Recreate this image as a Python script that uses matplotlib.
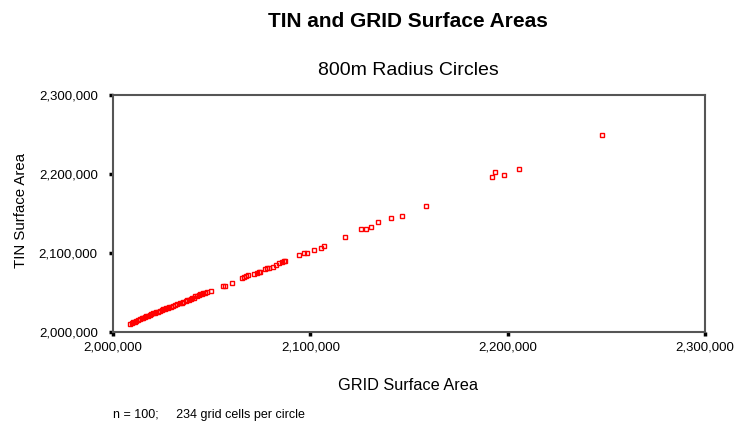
import matplotlib.pyplot as plt
from matplotlib.ticker import FuncFormatter

# values (thousands of m^2)
grid_area = [2008.5, 2009.5, 2010.2, 2011.0, 2011.8, 2012.6, 2013.6, 2014.5, 2015.2, 2016.1,
             2016.9, 2017.8, 2018.6, 2019.4, 2020.3, 2021.2, 2022.0, 2022.9, 2023.8, 2024.6,
             2025.5, 2026.2, 2027.0, 2027.7, 2028.3, 2029.5, 2030.4, 2031.3, 2032.6, 2033.9,
             2034.8, 2035.6, 2036.8, 2037.6, 2038.4, 2039.3, 2040.2, 2040.9, 2041.5, 2042.6,
             2043.5, 2044.2, 2044.9, 2045.8, 2046.6, 2047.8, 2049.5, 2055.9, 2057.0, 2060.1,
             2065.5, 2066.6, 2067.6, 2068.6, 2071.5, 2072.9, 2073.8, 2074.6, 2077.0, 2078.0,
             2079.2, 2081.3, 2082.5, 2083.9, 2085.5, 2086.5, 2087.2, 2094.4, 2097.0, 2098.3,
             2102.0, 2105.2, 2106.8, 2117.7, 2125.7, 2128.0, 2130.6, 2134.5, 2141.0, 2146.2,
             2158.6, 2192.3, 2193.7, 2198.3, 2205.9, 2247.6]
tin_area = [2010.2, 2011.3, 2012.2, 2013.0, 2014.0, 2015.1, 2016.4, 2017.3, 2018.2, 2019.3,
            2020.0, 2020.6, 2021.5, 2022.5, 2023.6, 2024.5, 2025.0, 2025.6, 2026.8, 2027.7,
            2028.6, 2029.2, 2029.9, 2030.6, 2031.1, 2032.2, 2033.0, 2034.0, 2035.2, 2036.2,
            2037.1, 2038.2, 2039.1, 2040.0, 2040.7, 2041.6, 2042.5, 2043.6, 2045.8, 2046.2,
            2047.0, 2047.5, 2047.9, 2049.0, 2050.0, 2050.8, 2052.0, 2057.6, 2058.6, 2061.8,
            2068.4, 2070.2, 2071.0, 2071.9, 2074.0, 2074.8, 2075.6, 2076.5, 2079.4, 2080.7,
            2081.5, 2082.8, 2084.6, 2087.0, 2088.6, 2089.5, 2090.4, 2097.5, 2100.5, 2100.5,
            2103.4, 2106.8, 2108.5, 2119.8, 2130.0, 2131.0, 2132.8, 2139.0, 2144.0, 2147.0,
            2160.0, 2195.8, 2202.0, 2198.8, 2206.8, 2249.0]
x = [v * 1000 for v in grid_area]
y = [v * 1000 for v in tin_area]

ticks = [2000000, 2100000, 2200000, 2300000]

plt.rcParams['font.family'] = ['Liberation Sans', 'DejaVu Sans']

W, H = 736, 428
fig = plt.figure(figsize=(W / 100, H / 100), dpi=100)
ax = fig.add_axes([113 / W, 1 - 332 / H, 592 / W, 237 / H])

ax.plot(x, y, 's', ms=3.2, mfc='none', mec='#ff0000', mew=1.0)

ax.set_xlim(2000000, 2300000)
ax.set_ylim(2000000, 2300000)
ax.set_xticks(ticks)
ax.set_yticks(ticks)
fmt = FuncFormatter(lambda v, p: f"{int(v):,}")
ax.xaxis.set_major_formatter(fmt)
ax.yaxis.set_major_formatter(fmt)
ax.tick_params(direction='out', length=3, width=2.5, color='black', labelsize=9.5)
ax.tick_params(axis='x', pad=4)
ax.tick_params(axis='y', pad=8)

for s in ax.spines.values():
    s.set_color('#555555')
    s.set_linewidth(1.5)

ax.set_xlabel("GRID Surface Area", fontsize=11.7, va='baseline')
ax.xaxis.set_label_coords((408 - 113) / 592, (332 - 390) / 237)
ax.set_ylabel("TIN Surface Area", fontsize=10.8, va='center')
ax.yaxis.set_label_coords((21 - 113) / 592, (332 - 210) / 237)

fig.text(408 / W, 1 - 27 / H, "TIN and GRID Surface Areas", ha='center', va='baseline',
         fontsize=15, fontweight='bold')
fig.text(408 / W, 1 - 75 / H, "800m Radius Circles", ha='center', va='baseline', fontsize=14)
fig.text(113 / W, 1 - 418 / H, "n = 100;     234 grid cells per circle", ha='left',
         va='baseline', fontsize=9)

fig.savefig("out.png", dpi=100)
